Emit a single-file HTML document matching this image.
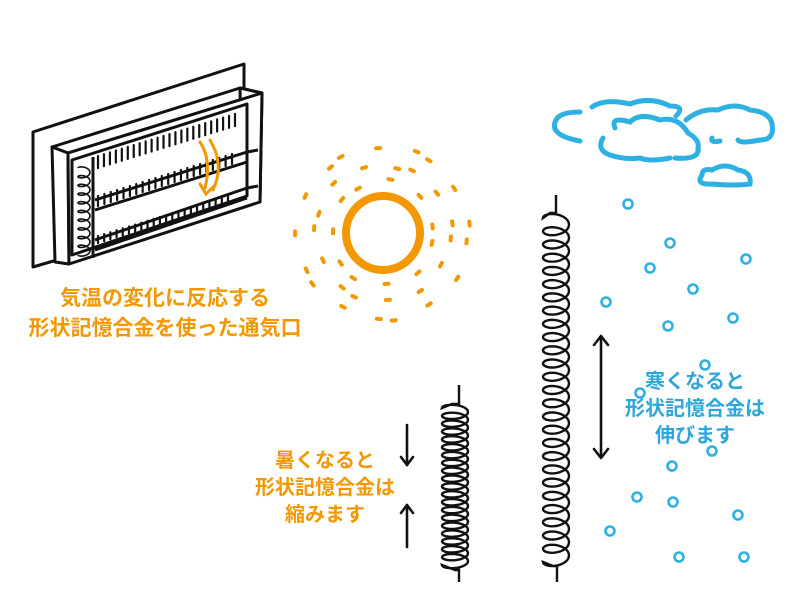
<!DOCTYPE html>
<html><head><meta charset="utf-8"><style>
html,body{margin:0;padding:0;background:#fff;width:800px;height:615px;overflow:hidden}
svg{position:absolute;left:0;top:0}
.t{position:absolute;font-family:"Liberation Sans","Noto Sans CJK JP",sans-serif;font-weight:bold;text-align:center;white-space:nowrap}
</style></head><body>
<svg id="s" width="800" height="615" viewBox="0 0 800 615">
<g fill="#fff" stroke="#111" stroke-width="3" stroke-linejoin="round">
<polygon points="33,132 244,64 244,205 33,267"/>
<polygon points="52,147 240,88 262,93 68,153"/>
<polygon points="240,88 262,93 260,202 242,196"/>
<polygon points="52,147 68,153 69,264 55,262"/>
<polygon points="68,153 262,93 260,202 69,264"/>
<polygon points="72,160 247,104 247,196 72,255"/>
<polyline points="95,200 247,152 258,150" fill="none"/>
<polyline points="95,210 247,162" fill="none"/>
<polyline points="95,240 247,188 258,186" fill="none"/>
<polyline points="95,250 247,198" fill="none"/>
<line x1="93" y1="157" x2="93" y2="258"/>
</g>
<g id="ticks" stroke="#111" stroke-width="2.2" stroke-linecap="round"></g>
<path id="ventcoil" fill="none" stroke="#111" stroke-width="1.6"/>
<path d="M200,142 Q212,160 205,188 M210,140 Q225,165 213,190 M200,184 L206,194 L214,186" fill="none" stroke="#f39800" stroke-width="3" stroke-linecap="round"/>
<circle cx="383" cy="233" r="37" fill="none" stroke="#f39800" stroke-width="8"/>
<g id="sun" stroke="#f39800" stroke-width="4" stroke-linecap="round"></g>
<g fill="none" stroke="#2fb0e3" stroke-width="5" stroke-linecap="round">
<path d="M580,141 Q548,135 556,120 Q560,112 580,112 M592,107 Q605,98 630,104 Q650,96 670,106 Q686,106 676,116"/>
<path d="M615,128 Q610,116 630,122 Q640,112 660,120 Q678,116 688,133 Q700,140 698,148 Q700,160 675,158 M670,158 Q650,162 640,158 Q625,160 610,155 Q596,150 603,138"/>
<path d="M686,120 Q700,108 718,110 Q735,102 750,110 Q770,112 772,124 Q775,140 760,140 Q740,144 738,140 M720,141 Q710,143 712,138"/>
<path d="M702,175 Q695,185 712,184 Q735,186 750,184 Q752,172 738,170 Q725,162 712,170 Q702,168 702,175"/>
</g>
<g id="rain" fill="none" stroke="#2fb0e3" stroke-width="2.6"></g>
<path id="sp1" fill="none" stroke="#111" stroke-width="2.4"/>
<path id="sp2" fill="none" stroke="#111" stroke-width="2.4"/>
<g fill="none" stroke="#111" stroke-width="2.6" stroke-linecap="round" stroke-linejoin="round">
<line x1="601" y1="337" x2="601" y2="457"/><polyline points="594,345 601,336 608,345"/><polyline points="594,449 601,458 608,449"/>
<line x1="407" y1="425" x2="407" y2="465"/><polyline points="401,457 407,465 413,457"/>
<line x1="407" y1="505" x2="407" y2="547"/><polyline points="401,513 407,505 413,513"/>
</g>
</svg>
<div class="t" style="left:5px;top:284px;width:320px;font-size:21px;line-height:30px;color:#f39800">気温の変化に反応する<br>形状記憶合金を使った通気口</div>
<div class="t" style="left:230px;top:448px;width:190px;font-size:20px;line-height:27px;color:#f39800">暑くなると<br>形状記憶合金は<br>縮みます</div>
<div class="t" style="left:600px;top:369px;width:190px;font-size:20px;line-height:27px;color:#2fa6da">寒くなると<br>形状記憶合金は<br>伸びます</div>
<script>
var NS="http://www.w3.org/2000/svg";
function coil(cx,y0,y1,n,R,r){var k=(y1-y0)/(n*2*Math.PI),d="";var N=n*40;
for(var i=0;i<=N;i++){var t=i/N*n*2*Math.PI;var x=cx-R*Math.cos(t);var y=y0+k*t-r*Math.sin(t);d+=(i?"L":"M")+x.toFixed(1)+","+y.toFixed(1);}return d;}
document.getElementById("sp1").setAttribute("d","M459,385 L459,404 L452,404 "+coil(455,408,565,20,13,5).replace(/^M/,"L")+" L455,570 L459,570 L459,582");
document.getElementById("sp2").setAttribute("d","M556,195 L556,213 L550,213 "+coil(556,218,562,26,13,7).replace(/^M/,"L")+" L553,566 L557,566 L557,582");
document.getElementById("ventcoil").setAttribute("d",coil(84,168,255,10,6,3));
var tk=document.getElementById("ticks");
function row(x0,y0,x1,y1,h,n){for(var i=0;i<n;i++){var f=i/(n-1);var x=x0+(x1-x0)*f,y=y0+(y1-y0)*f;var l=document.createElementNS(NS,"line");l.setAttribute("x1",x);l.setAttribute("y1",y);l.setAttribute("x2",x);l.setAttribute("y2",y+h);tk.appendChild(l);}}
row(98,156,235,114,12,24);row(98,196,232,154,10,22);row(98,236,228,196,7,22);
var s=document.getElementById("sun");
var rings=[[52,11,0.2],[68,15,0.5],[86,17,0.1]];
rings.forEach(function(a,j){for(var i=0;i<a[1];i++){var an=i/a[1]*2*Math.PI+a[2]+((i*37)%7)*0.04;var r=a[0]+((i*13)%5)-2;var L=2;var cx=383+r*Math.cos(an),cy=233+r*Math.sin(an);var tx=-Math.sin(an)*L,ty=Math.cos(an)*L;var l=document.createElementNS(NS,"line");l.setAttribute("x1",(cx-tx).toFixed(1));l.setAttribute("y1",(cy-ty).toFixed(1));l.setAttribute("x2",(cx+tx).toFixed(1));l.setAttribute("y2",(cy+ty).toFixed(1));s.appendChild(l);}});
var rn=document.getElementById("rain");
[[628,204],[670,243],[746,259],[650,268],[693,289],[606,302],[733,318],[668,326],[705,365],[640,393],[672,466],[712,451],[637,497],[673,502],[738,515],[610,531],[679,557],[744,557]].forEach(function(p){var c=document.createElementNS(NS,"circle");c.setAttribute("cx",p[0]);c.setAttribute("cy",p[1]);c.setAttribute("r",4.5);rn.appendChild(c);});
</script>
</body></html>
